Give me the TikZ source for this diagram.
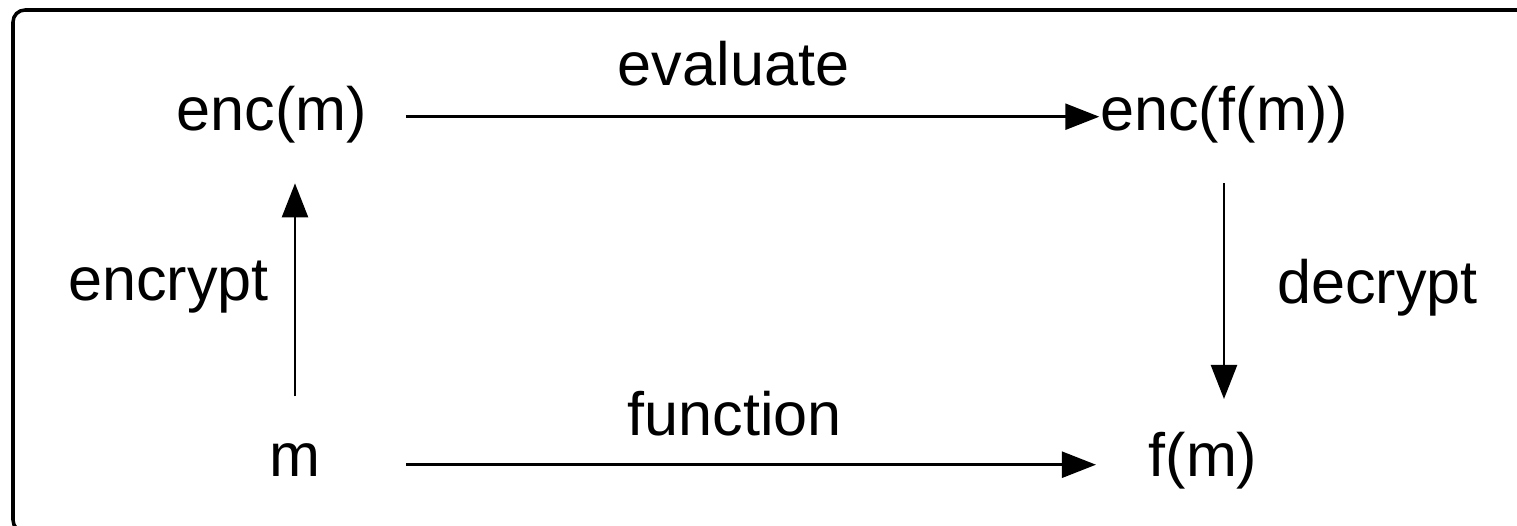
\documentclass[tikz,border=0pt]{standalone}
\usepackage{fontspec}
\setmainfont{Liberation Sans}
\usepackage{tikz}
\usetikzlibrary{arrows.meta, positioning}

\begin{document}
\begin{tikzpicture}[
        term/.style={inner sep=0pt, font=\fontsize{17.4}{20}\selectfont},
        lbl/.style={inner sep=0pt, font=\fontsize{17.4}{20}\selectfont},
        arr/.style={-{Triangle[length=0.34cm, width=0.26cm]}, line width=0.7pt, black},
        frame/.style={draw, line width=1pt, rounded corners=0.12cm}
    ]
        \useasboundingbox (0,0) rectangle (15.17,-5.26);
        \clip (0,0) rectangle (15.17,-5.26);
        \draw[frame] (0.13,-0.10) rectangle (15.45,-5.32);

        % the four corners of the square
        \node[term, anchor=base] (encm)  at (2.72,-1.31)  {enc(m)};
        \node[term, anchor=base] (encfm) at (12.24,-1.31) {enc(f(m))};
        \node[term, anchor=base] (m)     at (2.95,-4.77)  {m};
        \node[term, anchor=base] (fm)    at (12.03,-4.77) {f(m)};

        \draw[arr, shorten <=0.38cm, transform canvas={yshift=0.05cm}]
            (encm.mid east) -- node[lbl, above=0.29cm]{evaluate} (encfm.mid west);
        \draw[arr, shorten <=0.85cm, shorten >=0.52cm, transform canvas={yshift=0.03cm}]
            (m.mid east) -- node[lbl, above=0.27cm]{function} (fm.mid west);
        \draw[arr, shorten <=0.47cm, shorten >=0.39cm]
            (m.north) -- node[lbl, left=0.25cm, yshift=0.07cm]{encrypt} (m.north |- encm.south);
        \draw[arr, shorten <=0.39cm, shorten >=0.33cm]
            (encfm.south) -- node[lbl, right=0.52cm]{decrypt} (encfm.south |- fm.north);
    \end{tikzpicture}
\end{document}
